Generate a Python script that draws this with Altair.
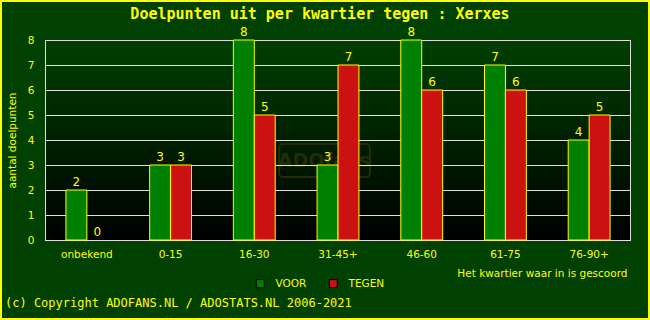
import altair as alt
import pandas as pd

categories = ["onbekend", "0-15", "16-30", "31-45+", "46-60", "61-75", "76-90+"]
voor = [2, 3, 8, 3, 8, 7, 4]
tegen = [0, 3, 5, 7, 6, 6, 5]
series = ["VOOR", "TEGEN"]
y_ticks = [0, 1, 2, 3, 4, 5, 6, 7, 8]
title_text = "Doelpunten uit per kwartier tegen : Xerxes"
copyright_text = "(c) Copyright ADOFANS.NL / ADOSTATS.NL 2006-2021"

YELLOW = "#ffff00"
BG = "#004000"
SANS = "DejaVu Sans"
MONO = "DejaVu Sans Mono"

rows = []
for c, v, t in zip(categories, voor, tegen):
    rows.append({"cat": c, "serie": "VOOR", "val": v})
    rows.append({"cat": c, "serie": "TEGEN", "val": t})
df = pd.DataFrame(rows)
grid_df = pd.DataFrame({"val": y_ticks})
one = pd.DataFrame({"a": [0]})

W, H = 586, 200

yscale = alt.Scale(domain=[0, 8], nice=False)
xscale = alt.Scale(domain=categories, paddingInner=0, paddingOuter=0)
xoff = alt.Scale(domain=series, paddingInner=0, paddingOuter=1)

yaxis = alt.Axis(title="aantal doelpunten", values=y_ticks, grid=False,
                 ticks=False, tickSize=0, domain=False, labelColor=YELLOW,
                 labelFont=SANS, labelFontSize=10.5, labelPadding=11,
                 titleColor=YELLOW, titleFont=SANS, titleFontSize=10.5,
                 titleFontWeight="normal", titleAngle=270, titleX=-33,
                 titleY=100, titleAlign="center", titleBaseline="middle")
xaxis = alt.Axis(title="Het kwartier waar in is gescoord", labelAngle=0,
                 labelColor=YELLOW, labelFont=SANS, labelFontSize=10.5,
                 labelPadding=9, ticks=False, tickSize=0, domain=False,
                 titleColor=YELLOW, titleFont=SANS, titleFontSize=10.5,
                 titleFontWeight="normal", titleAlign="right",
                 titleAnchor="end", titleX=582, titleY=33,
                 titleBaseline="middle")

# plot background gradient
bg = alt.Chart(one).mark_rect(
    color=alt.Gradient(
        gradient="linear",
        stops=[alt.GradientStop(color="#003f00", offset=0),
               alt.GradientStop(color="#000000", offset=1)],
        x1=0, x2=0, y1=0, y2=1,
    )
).encode(x=alt.value(0), x2=alt.value(W), y=alt.value(0), y2=alt.value(H))

# watermark
WM = "#222d06"
wm_box = alt.Chart(one).mark_rect(
    fill=None, stroke=WM, strokeWidth=2, cornerRadius=4
).encode(x=alt.value(234), x2=alt.value(325), y=alt.value(104), y2=alt.value(137))
wm_text = alt.Chart(one).mark_text(
    text="ADOfans", font=SANS, fontWeight="bold", fontSize=19, color=WM,
    align="center", baseline="middle"
).encode(x=alt.value(279), y=alt.value(121))

grid = alt.Chart(grid_df).mark_rule(color="#e0e0e0", strokeWidth=1, yOffset=0.5).encode(
    y=alt.Y("val:Q", scale=yscale, axis=yaxis)
)
border_l = alt.Chart(one).mark_rule(color="#e0e0e0", strokeWidth=1).encode(
    x=alt.value(0.5), y=alt.value(0), y2=alt.value(H + 1))
border_r = alt.Chart(one).mark_rule(color="#e0e0e0", strokeWidth=1).encode(
    x=alt.value(W - 0.5), y=alt.value(0), y2=alt.value(H + 1))

bars = alt.Chart(df).transform_filter("datum.val > 0").mark_bar(
    stroke=YELLOW, strokeWidth=1
).encode(
    x=alt.X("cat:N", scale=xscale, sort=categories, axis=xaxis),
    xOffset=alt.XOffset("serie:N", scale=xoff, sort=series),
    y=alt.Y("val:Q", scale=yscale, axis=yaxis),
    color=alt.Color("serie:N", sort=series,
                    scale=alt.Scale(domain=series, range=["#008000", "#cc1111"]),
                    legend=alt.Legend(title=None, orient="none", direction="horizontal",
                                      legendX=210, legendY=238, symbolType="square",
                                      symbolSize=64, symbolStrokeColor="#000000",
                                      symbolStrokeWidth=1, symbolOpacity=1,
                                      labelColor=YELLOW, labelFont=SANS,
                                      labelFontSize=10.5, labelOffset=10,
                                      columnPadding=20, padding=0)),
)

labels = alt.Chart(df).mark_text(
    color=YELLOW, font=SANS, fontSize=12, baseline="alphabetic", dy=-4, align="center"
).encode(
    x=alt.X("cat:N", scale=xscale, sort=categories, axis=xaxis),
    xOffset=alt.XOffset("serie:N", scale=xoff, sort=series),
    y=alt.Y("val:Q", scale=yscale, axis=yaxis),
    text="val:Q",
)

title_mark = alt.Chart(one).mark_text(
    text=title_text, font=MONO, fontSize=15, fontWeight="bold",
    color=YELLOW, align="center", baseline="middle"
).encode(x=alt.value(275), y=alt.value(-26))

copyright_txt = alt.Chart(one).mark_text(
    text=copyright_text, font=MONO, fontSize=12,
    color=YELLOW, align="left", baseline="middle"
).encode(x=alt.value(-40), y=alt.value(263))

frame = alt.Chart(one).mark_rect(fill=None, stroke=YELLOW, strokeWidth=2).encode(
    x=alt.value(-44), x2=alt.value(604), y=alt.value(-39), y2=alt.value(279)
)

chart = alt.layer(
    bg, wm_box, wm_text, grid, border_l, border_r, bars, labels,
    title_mark, copyright_txt, frame
).properties(
    width=W, height=H,
    padding={"left": 45, "top": 40, "right": 19, "bottom": 80},
    autosize=alt.AutoSizeParams(type="none"),
    background=BG,
).configure_view(stroke=None).configure_axis(grid=False)

chart.save("out.html", embed_options={"renderer": "svg", "actions": False})
